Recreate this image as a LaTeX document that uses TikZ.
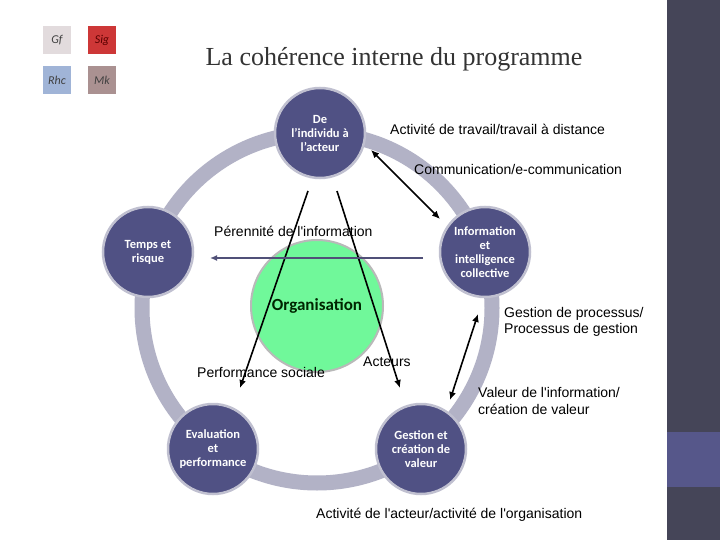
\documentclass[tikz,border=0pt]{standalone}
\usepackage{fontspec}
\setmainfont{Liberation Sans}
\newfontfamily\titlefont{Liberation Serif}
\newfontfamily\boxfont{Carlito}
\usetikzlibrary{arrows.meta}
\definecolor{ringgray}{RGB}{178,178,198}
\definecolor{ringrim}{RGB}{192,192,208}
\definecolor{deeppurple}{RGB}{80,81,132}
\definecolor{orggreen}{RGB}{112,248,154}
\definecolor{sidebar}{RGB}{69,69,88}
\definecolor{sidemark}{RGB}{86,87,138}
\definecolor{tagwhite}{RGB}{226,219,221}
\definecolor{tagred}{RGB}{205,55,55}
\definecolor{tagblue}{RGB}{160,180,215}
\definecolor{tagmauve}{RGB}{170,145,145}
\definecolor{arrowgray}{RGB}{80,80,120}
\newcommand\apos{\textquotesingle}

\tikzset{
  theme/.style={circle, fill=deeppurple, draw=ringrim, line width=2.5pt,
    minimum size=90pt, inner sep=0pt, align=center, text=white,
    font=\boxfont\bfseries\fontsize{12.5}{14}\selectfont},
  lbl/.style={font=\fontsize{14}{16.5}\selectfont, inner sep=0pt, anchor=west, align=left},
  tag/.style={minimum size=28pt, inner sep=0pt, text=black!75,
    font=\boxfont\itshape\fontsize{12}{14}\selectfont},
  link/.style={line width=1.6pt, -{Latex[length=8pt,width=7pt]}},
  duallink/.style={line width=1.6pt, {Latex[length=8pt,width=7pt]}-{Latex[length=8pt,width=7pt]}},
}

\begin{document}
\begin{tikzpicture}[x=1pt, y=-1pt]
  \useasboundingbox (0,0) rectangle (720,540);
  \fill[white] (0,0) rectangle (720,540);

  % bande latérale
  \fill[sidebar] (667,0) rectangle (720,540);
  \fill[sidemark] (667,432) rectangle (720,487);

  % pastilles en haut à gauche
  \node[tag, fill=tagwhite] (gf) at (57,40) {Gf};
  \node[tag, fill=tagred, text=red!35!black] (sig) at (102,40) {Sig};
  \node[tag, fill=tagblue] (rhc) at (57,80) {Rhc};
  \node[tag, fill=tagmauve] (mk) at (102,80) {Mk};

  % titre
  \node[font=\titlefont\fontsize{26}{30}\selectfont, text=black!80] (title) at (394,59)
    {La cohérence interne du programme};

  % anneau
  \coordinate (ctr) at (317,308);
  \draw[ringgray, line width=15pt] (ctr) circle[radius=175pt];

  % organisation au centre
  \node[circle, fill=orggreen, draw=gray!55, line width=2pt, minimum size=132pt,
    font=\boxfont\bfseries\fontsize{17}{20}\selectfont, text=black!85!green] (org) at (317,306) {Organisation};

  % les cinq thèmes
  \node[theme] (indiv) at (320,133) {De\\l’individu à\\l’acteur};
  \node[theme] (info) at (485,252) {Information\\et\\intelligence\\collective};
  \node[theme] (gestion) at (421,449) {Gestion et\\création de\\valeur};
  \node[theme] (eval) at (213,449) {Evaluation\\et\\performance};
  \node[theme] (temps) at (148,252) {Temps et\\risque};

  % libellés
  \node[lbl] (travail) at (390,129) {Activité de travail/travail à distance};
  \node[lbl] (comm) at (414,169) {Communication/e-communication};
  \node[lbl] (peren) at (214,231) {Pérennité de l\apos information};
  \node[lbl] (proc) at (504,322) {Gestion de processus/\\Processus de gestion};
  \node[lbl] (acteurs) at (363,362) {Acteurs};
  \node[lbl] (perf) at (197,372) {Performance sociale};
  \node[lbl] (valeur) at (478,401) {Valeur de l\apos information/\\création de valeur};
  \node[lbl] (activ) at (316,515) {Activité de l\apos acteur/activité de l\apos organisation};

  % extrémités des flèches
  \coordinate (a1) at (371,150);
  \coordinate (a2) at (440,219);
  \coordinate (b1) at (308,191);
  \coordinate (b2) at (240,388);
  \coordinate (c1) at (337,191);
  \coordinate (c2) at (400,388);
  \coordinate (d1) at (423,258);
  \coordinate (d2) at (210,258);
  \coordinate (e1) at (478,314);
  \coordinate (e2) at (450,400);

  % flèches
  \draw[duallink] (a1) -- (a2);
  \draw[link] (b1) -- (b2);
  \draw[link] (c1) -- (c2);
  \draw[arrowgray, line width=2pt, -{Latex[length=7pt,width=6pt]}] (d1) -- (d2);
  \draw[duallink] (e1) -- (e2);
\end{tikzpicture}
\end{document}
